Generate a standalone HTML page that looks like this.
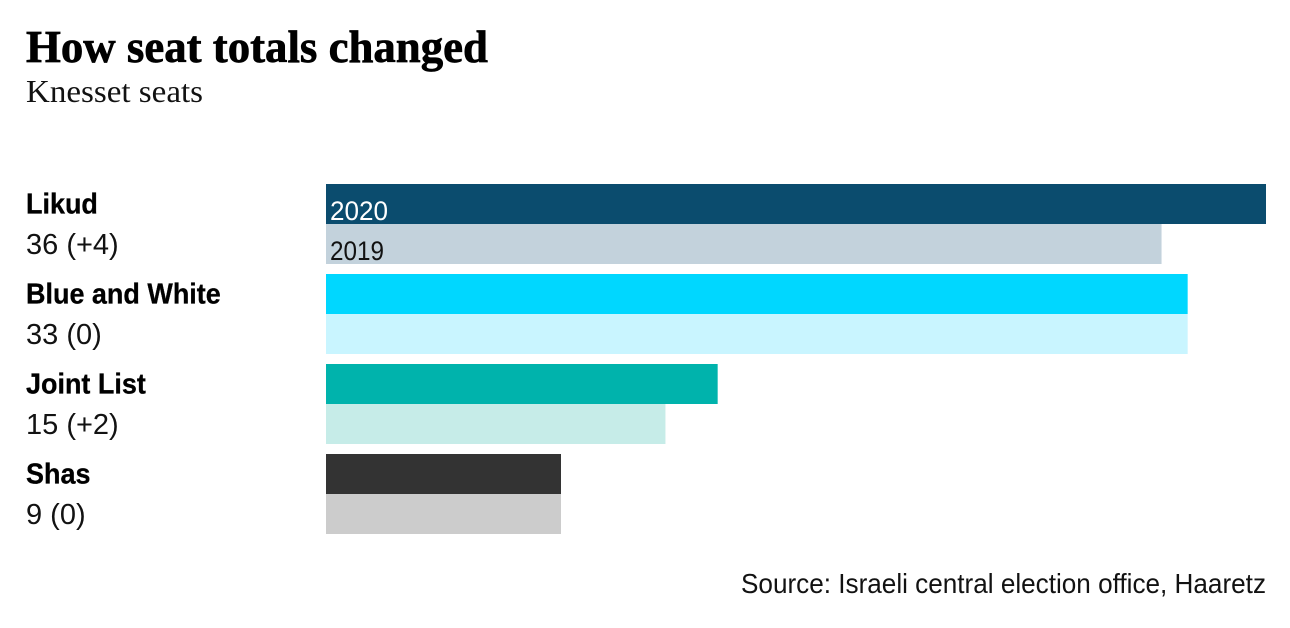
<!DOCTYPE html>
<html lang="en">
<head>
<meta charset="utf-8">
<title>How seat totals changed</title>
<style>
  html, body { margin: 0; padding: 0; background: #fff; width: 1290px; height: 628px; overflow: hidden; }
  svg { display: block; }
  text { fill: #000; }
  .title { font: bold 46px "Liberation Serif", serif; stroke: #000; stroke-width: 0.7px; }
  .subtitle { font: 32px "Liberation Serif", serif; fill: #121212; }
  .party { font: bold 29px "Liberation Sans", sans-serif; stroke: #000; stroke-width: 0.3px; }
  .value { font: 29px "Liberation Sans", sans-serif; fill: #121212; }
  .year { font: 27px "Liberation Sans", sans-serif; }
  .year-2020 { fill: #fff; }
  .year-2019 { fill: #121212; }
  .source { font: 28px "Liberation Sans", sans-serif; fill: #121212; }
  .p0.s0 { fill: #0b4c6e; } .p0.s1 { fill: #c3d2dc; }
  .p1.s0 { fill: #00d7ff; } .p1.s1 { fill: #c9f5ff; }
  .p2.s0 { fill: #00b3ac; } .p2.s1 { fill: #c6ece8; }
  .p3.s0 { fill: #333333; } .p3.s1 { fill: #cccccc; }
</style>
</head>
<body>
<svg id="chart" width="1290" height="628" viewBox="0 0 1290 628" xmlns="http://www.w3.org/2000/svg">
  <text class="title" x="26" y="62" textLength="462" lengthAdjust="spacingAndGlyphs">How seat totals changed</text>
  <text class="subtitle" x="26" y="102" textLength="177" lengthAdjust="spacingAndGlyphs">Knesset seats</text>
  <g id="rows"></g>
  <text class="source" x="741" y="593" textLength="525" lengthAdjust="spacingAndGlyphs">Source: Israeli central election office, Haaretz</text>
</svg>
<script>
const parties = ['Likud', 'Blue and White', 'Joint List', 'Shas'];
const seats2020 = [36, 33, 15, 9];
const seats2019 = [32, 33, 13, 9];
const changeLabels = ['+4', '0', '+2', '0'];
const years = ['2020', '2019'];

const SVG_NS = 'http://www.w3.org/2000/svg';
const rows = document.getElementById('rows');

// Axis functions
const X_ORIGIN = 326;
const PX_PER_SEAT = 940 / 36;
const ROW_TOP = 184;
const ROW_STEP = 90;
const BAR_HEIGHT = 40;
function xScale(v) { return X_ORIGIN + v * PX_PER_SEAT; }
function rowY(i) { return ROW_TOP + i * ROW_STEP; }
function slugOf(s) { return s.toLowerCase().replace(/\s+/g, '-'); }

function drawBar(i, seriesIndex, value) {
  const r = document.createElementNS(SVG_NS, 'rect');
  
  
  r.setAttribute('class', 'p' + i + ' s' + seriesIndex);
  r.setAttribute('x', xScale(0));
  r.setAttribute('y', rowY(i) + seriesIndex * BAR_HEIGHT);
  r.setAttribute('width', xScale(value) - xScale(0));
  r.setAttribute('height', BAR_HEIGHT);
  rows.appendChild(r);
}

parties.forEach(function (name, i) {
  drawBar(i, 0, seats2020[i]);
  drawBar(i, 1, seats2019[i]);

  const label = document.createElementNS(SVG_NS, 'text');
  
  
  label.setAttribute('class', 'party');
  label.setAttribute('transform', 'translate(26,' + (rowY(i) + 29.5) + ') scale(0.93,1)');
  label.textContent = name;
  rows.appendChild(label);

  const val = document.createElementNS(SVG_NS, 'text');
  
  
  val.setAttribute('class', 'value');
  val.setAttribute('transform', 'translate(26,' + (rowY(i) + 70) + ') scale(1,1)');
  val.textContent = seats2020[i] + ' (' + changeLabels[i] + ')';
  rows.appendChild(val);
});

years.forEach(function (year, s) {
  const t = document.createElementNS(SVG_NS, 'text');
  
  
  t.setAttribute('class', 'year year-' + year);
  t.setAttribute('x', 330);
  t.setAttribute('y', rowY(0) + s * BAR_HEIGHT + 36);
  t.setAttribute('textLength', 54 + (s === 0 ? 4 : 0));
  t.setAttribute('lengthAdjust', 'spacingAndGlyphs');
  t.textContent = year;
  rows.appendChild(t);
});
</script>
</body>
</html>
